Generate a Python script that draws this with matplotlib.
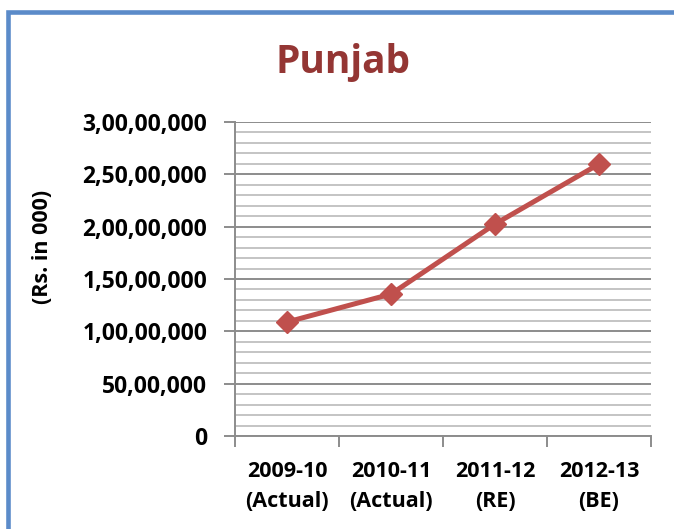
import numpy as np
import matplotlib
matplotlib.use('Agg')
import matplotlib.pyplot as plt
from matplotlib.ticker import MultipleLocator, FuncFormatter, FixedLocator
from matplotlib.patches import Rectangle

years = ['2009-10\n(Actual)', '2010-11\n(Actual)', '2011-12\n(RE)', '2012-13\n(BE)']
spend = [10890000, 13560000, 20250000, 25980000]

plt.rcParams['font.family'] = ['Open Sans', 'DejaVu Sans']
plt.rcParams['font.weight'] = 'bold'


def indian(v, pos=None):
    v = int(round(v))
    s = str(v)
    if len(s) <= 3:
        return s
    head, tail = s[:-3], s[-3:]
    parts = []
    while len(head) > 2:
        parts.insert(0, head[-2:])
        head = head[:-2]
    if head:
        parts.insert(0, head)
    return ','.join(parts + [tail])


fig = plt.figure(figsize=(6.74, 5.29), dpi=100)
W, H = 674, 529

# blue chart frame (only left + top visible)
fig.patches.append(Rectangle((8 / W, -0.1), 1.2, 1 - 12 / H + 0.1,
                             transform=fig.transFigure, fill=False,
                             edgecolor='#5B8BC9', linewidth=3.3))

ax = fig.add_axes([235 / W, 93 / H, 416 / W, 314 / H])

x = np.arange(len(years)) + 0.5
ax.plot(x, spend, color='#C0504D', lw=3.6, marker='D', ms=11,
        markeredgecolor='#C0504D', zorder=5, clip_on=False)

ax.set_xlim(0, 4)
ax.set_ylim(0, 30000000)
ax.yaxis.set_major_locator(MultipleLocator(5000000))
ax.yaxis.set_minor_locator(MultipleLocator(1000000))
ax.yaxis.set_major_formatter(FuncFormatter(indian))
ax.grid(which='minor', axis='y', color='#C4C4C4', lw=1.4)
ax.grid(which='major', axis='y', color='#8C8C8C', lw=1.4)
ax.set_axisbelow(True)

ax.xaxis.set_major_locator(FixedLocator([0, 1, 2, 3, 4]))
ax.xaxis.set_major_formatter(FuncFormatter(lambda v, p: ''))
ax.xaxis.set_minor_locator(FixedLocator(list(x)))
ax.set_xticklabels(years, minor=True)

ax.tick_params(axis='y', which='major', length=8, width=1.4, color='#8C8C8C',
               labelsize=16.5, pad=12)
ax.tick_params(axis='y', which='minor', length=0)
ax.tick_params(axis='x', which='major', length=8, width=1.4, color='#8C8C8C')
ax.tick_params(axis='x', which='minor', length=0, labelsize=15.5, pad=18)
for lab in ax.get_xticklabels(minor=True):
    lab.set_linespacing(1.55)
    lab.set_fontweight('bold')
for lab in ax.get_yticklabels():
    lab.set_fontweight('bold')

for s in ['top', 'right']:
    ax.spines[s].set_visible(False)
for s in ['left', 'bottom']:
    ax.spines[s].set_color('#8C8C8C')
    ax.spines[s].set_linewidth(1.4)

fig.text(43 / W, 1 - 247 / H, '(Rs. in 000)', rotation=90, ha='center',
         va='center', fontsize=15.5, fontweight='bold')
fig.text(343 / W, 1 - 62 / H, 'Punjab', ha='center', va='center',
         fontsize=28, fontweight='bold', color='#943634')

fig.savefig('out.png', dpi=100)
